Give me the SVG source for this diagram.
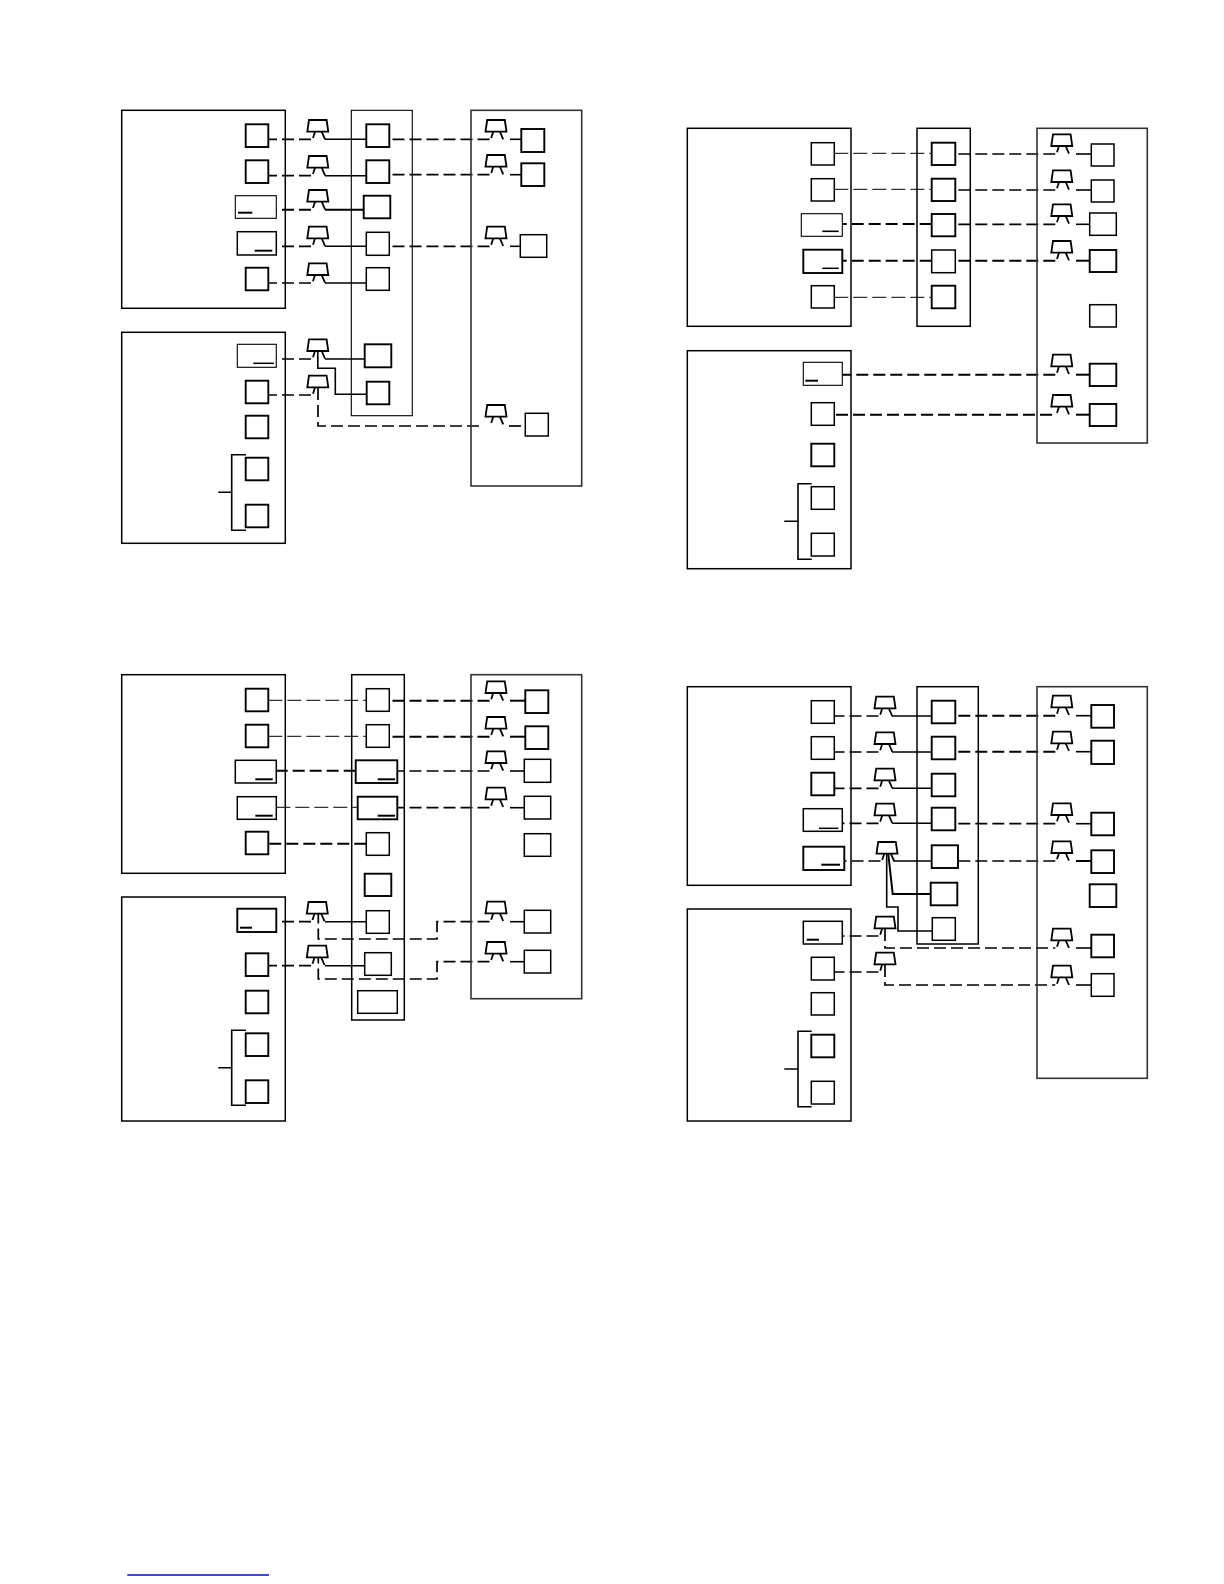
<svg xmlns="http://www.w3.org/2000/svg" xmlns:xlink="http://www.w3.org/1999/xlink" width="1224" height="1584" viewBox="0 0 1224 1584">
<style>
rect{fill:none;stroke:#000;stroke-width:1.5}
rect.t{stroke-width:1.1}
rect.b{stroke-width:1.9}
rect.g{stroke:#333;stroke-width:1.6}
path{fill:none;stroke:#000;stroke-width:1.5}
path.d{stroke-width:1.7;stroke-dasharray:12 5}
path.dt{stroke-width:1;stroke-dasharray:14 5}
path.db{stroke-width:2.1;stroke-dasharray:12 5}
path.u{stroke-width:2}
path.s{stroke-width:1.6}
path.k{stroke-width:1.8}
path.r{stroke:#1010a0;stroke-width:1.3}
</style>
<defs>
<g id="q"><path class="k" d="M-8.8 0H8.8L10.5 11.7H-10.5Z"/><path class="k" d="M-2.8 11.7L-4.8 18"/></g>
<g id="p"><use href="#q" xlink:href="#q"/><path class="k" d="M3.9 11.7L7.2 19.3"/></g>
</defs>

<g id="connectors">
<!-- top left -->
<path class="d" d="M311 139.3H268.3"/><path class="s" d="M325 139.3H366.3"/><path class="d" d="M489.5 139.3H392"/><path class="s" d="M510 139.3H521.3"/>
<path class="d" d="M311 175.7H268.3"/><path class="s" d="M325 175.7H366.3"/><path class="d" d="M489.5 174.7H392"/><path class="s" d="M510 174.7H521.3"/>
<path class="db" d="M311 209.7H276.3"/><path class="u" d="M325 209.7H363.7"/>
<path class="d" d="M311 246.3H276.3"/><path class="s" d="M325 246.3H366.3"/><path class="d" d="M489.5 246.3H392"/><path class="s" d="M510 246.3H520.3"/>
<path class="d" d="M311 283H268.3"/><path class="s" d="M325 283H366.3"/>
<path class="d" d="M311 359H276.3"/><path class="s" d="M325 359H364.7M317.8 351V368.3H335.3V394.3H366.7"/>
<path class="d" d="M311 395H268.3"/>
<path class="d" d="M318 388V426H481"/><path class="d" d="M509 426H525"/>
<!-- top right -->
<path class="dt" d="M834.3 153.3H931.7"/><path class="d" d="M1055.3 154H955"/><path class="s" d="M1076 154H1091.3"/>
<path class="dt" d="M834.3 189.3H931.7"/><path class="d" d="M1055.3 190H955"/><path class="s" d="M1076 190H1091.3"/>
<path class="db" d="M931.7 224H842.3"/><path class="d" d="M1055.3 224.3H955.3"/><path class="s" d="M1076 224.3H1089.7"/>
<path class="db" d="M931.7 260.7H842.3"/><path class="db" d="M1055.3 260.7H955.3"/><path class="u" d="M1076 260.7H1089.7"/>
<path class="dt" d="M834.3 297.3H931.7"/>
<path class="db" d="M1055.3 374.7H842.3"/><path class="u" d="M1076 374.7H1089.7"/>
<path class="db" d="M1052 414.7H834.3"/><path class="u" d="M1076 414.7H1089.7"/>
<!-- bottom left -->
<path class="dt" d="M268.3 700.3H366.3"/><path class="db" d="M489.5 700.7H389.3"/><path class="u" d="M510 700.7H525.3"/>
<path class="dt" d="M268.3 736.3H366.3"/><path class="db" d="M489.5 736.7H389.3"/><path class="u" d="M510 736.7H525.3"/>
<path class="db" d="M355.7 770.7H276.3"/><path class="d" d="M489.5 771H397.3"/><path class="s" d="M510 771H524.3"/>
<path class="dt" d="M276.3 807.3H357.7"/><path class="d" d="M489.5 807.7H397.3"/><path class="s" d="M510 807.7H524.3"/>
<path class="db" d="M366.3 843.7H268.3"/>
<path class="d" d="M311 921.7H276.3"/><path class="s" d="M325 921.7H366.3"/>
<path class="d" d="M311 965.7H268.3"/><path class="s" d="M325 965.7H364.7"/>
<path class="d" d="M489.5 921.7H437V939H318.3V914"/><path class="s" d="M510 921.7H524.3"/>
<path class="d" d="M489.5 961.7H437V979H318.3V958"/><path class="s" d="M510 961.7H524.3"/>
<!-- bottom right -->
<path class="d" d="M878.5 716H834.3"/><path class="s" d="M892 716H931.7"/><path class="db" d="M1055.3 715.7H957"/><path class="s" d="M1076 715.7H1091.3"/>
<path class="d" d="M878.5 752H834.3"/><path class="s" d="M892 752H931.7"/><path class="db" d="M1055.3 751.7H957"/><path class="s" d="M1076 751.7H1091.3"/>
<path class="d" d="M878.5 788.3H834.3"/><path class="s" d="M892 788.3H931.7"/>
<path class="d" d="M878.5 823.3H842.3"/><path class="s" d="M892 823.3H931.7"/><path class="d" d="M1055.3 823.7H957"/><path class="s" d="M1076 823.7H1091.3"/>
<path class="d" d="M880.5 861H844.3"/><path class="s" d="M894 861H931.7"/><path class="d" d="M1055.3 861H958"/><path class="u" d="M1076 861H1091.3"/>
<path class="u" d="M888.3 854L892.7 894H930.7"/><path class="s" d="M886.7 854V907H898V931H932.3"/>
<path class="d" d="M878.5 936H842.3"/><path class="d" d="M878.5 972H834.3"/>
<path class="d" d="M885 929V948H1055.3"/><path class="s" d="M1076 948H1091.3"/>
<path class="d" d="M885 965V985H1055.3"/><path class="s" d="M1076 985H1091.3"/>
</g>

<g id="tl">
<g id="tl-a"><rect x="121.7" y="110.3" width="163.6" height="198"/></g>
<g id="tl-b"><rect x="121.7" y="332.3" width="163.6" height="211"/></g>
<g id="tl-m"><rect class="t" x="351.3" y="110.3" width="61" height="305.4"/></g>
<g id="tl-r"><rect class="g" x="471" y="110.3" width="110.7" height="375.7"/></g>
<g id="tl-a1"><rect class="b" x="245.7" y="124.3" width="22.6" height="22.7"/></g>
<g id="tl-a2"><rect class="b" x="245.7" y="160.3" width="22.6" height="22.7"/></g>
<g id="tl-a3"><rect class="t" x="235.3" y="195.7" width="41" height="22.6"/><path class="u" d="M238 212.7H252.3"/></g>
<g id="tl-a4"><rect x="237.3" y="231.7" width="39" height="23.3"/><path class="u" d="M254.7 250.7H272.3"/></g>
<g id="tl-a5"><rect class="b" x="245.7" y="267.7" width="22.6" height="22.6"/></g>
<g id="tl-b1"><rect class="t" x="237.3" y="344.3" width="39" height="23"/><path d="M253.3 363.3H274"/></g>
<g id="tl-b2"><rect class="b" x="245.7" y="380.7" width="22.6" height="22.6"/></g>
<g id="tl-b3"><rect class="b" x="245.7" y="415.7" width="22.6" height="22.6"/></g>
<g id="tl-b4"><rect class="b" x="245.7" y="457.7" width="22.6" height="22.6"/></g>
<g id="tl-b5"><rect class="b" x="245.7" y="504.7" width="22.6" height="22.6"/></g>
<g id="tl-br"><path class="s" d="M246 454.7H231.7V530.3H246M231.7 492.3H218.3"/></g>
<g id="tl-m1"><rect class="b" x="366.3" y="124.3" width="23" height="22.7"/></g>
<g id="tl-m2"><rect class="b" x="366.3" y="160.3" width="23" height="22.7"/></g>
<g id="tl-m3"><rect class="b" x="363.7" y="195.7" width="26.6" height="22.6"/></g>
<g id="tl-m4"><rect x="366.3" y="232.3" width="23" height="23"/></g>
<g id="tl-m5"><rect x="366.3" y="267.7" width="23" height="22.6"/></g>
<g id="tl-m6"><rect class="b" x="364.7" y="344.3" width="26.6" height="23"/></g>
<g id="tl-m7"><rect class="b" x="366.7" y="381.7" width="22.6" height="22.6"/></g>
<g id="tl-r1"><rect class="b" x="521.3" y="129" width="23" height="23"/></g>
<g id="tl-r2"><rect class="b" x="521.3" y="163.3" width="23" height="22.7"/></g>
<g id="tl-r3"><rect x="520.3" y="234.7" width="26.4" height="22.6"/></g>
<g id="tl-r4"><rect x="525.3" y="413.3" width="23" height="22.7"/></g>
<use id="tl-p1" href="#p" xlink:href="#p" x="317.8" y="120"/>
<use id="tl-p2" href="#p" xlink:href="#p" x="317.8" y="156"/>
<use id="tl-p3" href="#p" xlink:href="#p" x="317.8" y="190"/>
<use id="tl-p4" href="#p" xlink:href="#p" x="317.8" y="226.7"/>
<use id="tl-p5" href="#p" xlink:href="#p" x="317.8" y="263.3"/>
<use id="tl-p6" href="#p" xlink:href="#p" x="317.8" y="339.3"/>
<use id="tl-p7" href="#q" xlink:href="#q" x="317.8" y="375.7"/>
<use id="tl-p8" href="#p" xlink:href="#p" x="496" y="120"/>
<use id="tl-p9" href="#p" xlink:href="#p" x="496" y="155"/>
<use id="tl-p10" href="#p" xlink:href="#p" x="496" y="226.7"/>
<use id="tl-p11" href="#p" xlink:href="#p" x="496" y="405"/>
</g>

<g id="tr">
<g id="tr-a"><rect x="687.3" y="128.3" width="163.7" height="198"/></g>
<g id="tr-b"><rect x="687.3" y="350.7" width="163.7" height="218"/></g>
<g id="tr-m"><rect x="917" y="128.3" width="53.3" height="198"/></g>
<g id="tr-r"><rect class="g" x="1037" y="128.3" width="110.3" height="314.7"/></g>
<g id="tr-a1"><rect x="811.3" y="142.7" width="23" height="22.3"/></g>
<g id="tr-a2"><rect x="811.3" y="178.7" width="23" height="22.3"/></g>
<g id="tr-a3"><rect class="t" x="801.3" y="213.7" width="41" height="22.6"/><path class="s" d="M822.3 231.3H838.7"/></g>
<g id="tr-a4"><rect class="b" x="803.3" y="249.7" width="39" height="23.3"/><path d="M822.3 268.3H838.7"/></g>
<g id="tr-a5"><rect x="811.3" y="285.7" width="23" height="22.3"/></g>
<g id="tr-b1"><rect class="t" x="803.3" y="362.3" width="39" height="23"/><path class="u" d="M805.3 380.7H818"/></g>
<g id="tr-b2"><rect x="811.3" y="402.7" width="23" height="22.6"/></g>
<g id="tr-b3"><rect class="b" x="811.3" y="443.7" width="23" height="22.6"/></g>
<g id="tr-b4"><rect x="811.3" y="486.7" width="23" height="22.6"/></g>
<g id="tr-b5"><rect x="811.3" y="533.3" width="23" height="22.7"/></g>
<g id="tr-br"><path class="s" d="M811.7 483.7H798V559.3H811.7M798 521.3H784.3"/></g>
<g id="tr-m1"><rect class="b" x="931.7" y="142.7" width="23.6" height="22.3"/></g>
<g id="tr-m2"><rect class="b" x="931.7" y="178.7" width="23.6" height="22.3"/></g>
<g id="tr-m3"><rect class="b" x="931.7" y="214" width="23.6" height="22.3"/></g>
<g id="tr-m4"><rect x="931.7" y="250" width="23.6" height="22.7"/></g>
<g id="tr-m5"><rect class="b" x="931.7" y="285.7" width="23.6" height="22.6"/></g>
<g id="tr-r1"><rect x="1091.3" y="144" width="22.7" height="22"/></g>
<g id="tr-r2"><rect x="1091.3" y="180" width="22.7" height="22"/></g>
<g id="tr-r3"><rect x="1089.7" y="213" width="26.6" height="22.3"/></g>
<g id="tr-r4"><rect class="b" x="1089.7" y="250" width="26.6" height="22"/></g>
<g id="tr-r5"><rect x="1089.7" y="304.7" width="26.6" height="22.3"/></g>
<g id="tr-r6"><rect class="b" x="1089.7" y="363.7" width="26.6" height="22.3"/></g>
<g id="tr-r7"><rect class="b" x="1089.7" y="404" width="26.6" height="22"/></g>
<use id="tr-p1" href="#p" xlink:href="#p" x="1061.8" y="134.3"/>
<use id="tr-p2" href="#p" xlink:href="#p" x="1061.8" y="170.3"/>
<use id="tr-p3" href="#p" xlink:href="#p" x="1061.8" y="204.3"/>
<use id="tr-p4" href="#p" xlink:href="#p" x="1061.8" y="241"/>
<use id="tr-p5" href="#p" xlink:href="#p" x="1061.8" y="354.7"/>
<use id="tr-p6" href="#p" xlink:href="#p" x="1061.8" y="395"/>
</g>

<g id="bl">
<g id="bl-a"><rect x="121.7" y="674.7" width="163.6" height="198.6"/></g>
<g id="bl-b"><rect x="121.7" y="897" width="163.6" height="224"/></g>
<g id="bl-m"><rect x="351.7" y="674.7" width="52.6" height="345.3"/></g>
<g id="bl-r"><rect class="g" x="471" y="674.7" width="110.7" height="324"/></g>
<g id="bl-a1"><rect class="b" x="245.7" y="688.7" width="22.6" height="22.6"/></g>
<g id="bl-a2"><rect class="b" x="245.7" y="724.7" width="22.6" height="22.6"/></g>
<g id="bl-a3"><rect x="235.3" y="760.3" width="41" height="22.7"/><path class="u" d="M255.3 779.3H272.7"/></g>
<g id="bl-a4"><rect x="237.3" y="796.7" width="39" height="22.6"/><path class="u" d="M255.3 815.7H272.7"/></g>
<g id="bl-a5"><rect class="b" x="245.7" y="831.7" width="22.6" height="22.6"/></g>
<g id="bl-b1"><rect class="b" x="237.3" y="908.7" width="39" height="23.3"/><path class="u" d="M240 927.7H252"/></g>
<g id="bl-b2"><rect class="b" x="245.7" y="953.3" width="22.6" height="22.7"/></g>
<g id="bl-b3"><rect class="b" x="245.7" y="990.7" width="22.6" height="22.6"/></g>
<g id="bl-b4"><rect class="b" x="245.7" y="1033.3" width="22.6" height="22.7"/></g>
<g id="bl-b5"><rect class="b" x="245.7" y="1080.3" width="22.6" height="22.7"/></g>
<g id="bl-br"><path class="s" d="M246 1030.3H231.7V1105.3H246M231.7 1067.7H218.3"/></g>
<g id="bl-m1"><rect x="366.3" y="688.7" width="23" height="22.6"/></g>
<g id="bl-m2"><rect x="366.3" y="724.7" width="23" height="22.6"/></g>
<g id="bl-m3"><rect class="b" x="355.7" y="760.3" width="41.6" height="22.7"/><path class="u" d="M377.7 779.3H395"/></g>
<g id="bl-m4"><rect class="b" x="357.7" y="796.7" width="39.6" height="22.6"/><path class="u" d="M377.7 815.7H395"/></g>
<g id="bl-m5"><rect x="366.3" y="832.7" width="23" height="22.6"/></g>
<g id="bl-m6"><rect class="b" x="364.7" y="873.7" width="26.6" height="22.3"/></g>
<g id="bl-m7"><rect x="366.3" y="910.7" width="23" height="22.6"/></g>
<g id="bl-m8"><rect x="364.7" y="952.7" width="26.6" height="22.6"/></g>
<g id="bl-m9"><rect x="357.7" y="990.7" width="39.6" height="22.6"/></g>
<g id="bl-r1"><rect class="b" x="525.3" y="690.3" width="23" height="22.7"/></g>
<g id="bl-r2"><rect class="b" x="525.3" y="726.3" width="23" height="22.7"/></g>
<g id="bl-r3"><rect x="524.3" y="759.3" width="26.4" height="23"/></g>
<g id="bl-r4"><rect x="524.3" y="796.3" width="26.4" height="22.7"/></g>
<g id="bl-r5"><rect x="524.3" y="833.7" width="26.4" height="22.6"/></g>
<g id="bl-r6"><rect x="524.3" y="910.3" width="26.4" height="22.7"/></g>
<g id="bl-r7"><rect x="524.3" y="950.3" width="26.4" height="22.7"/></g>
<use id="bl-p1" href="#p" xlink:href="#p" x="317.3" y="902"/>
<use id="bl-p2" href="#p" xlink:href="#p" x="317.3" y="945.7"/>
<use id="bl-p3" href="#p" xlink:href="#p" x="496" y="681.3"/>
<use id="bl-p4" href="#p" xlink:href="#p" x="496" y="717"/>
<use id="bl-p5" href="#p" xlink:href="#p" x="496" y="751.3"/>
<use id="bl-p6" href="#p" xlink:href="#p" x="496" y="787.7"/>
<use id="bl-p7" href="#p" xlink:href="#p" x="496" y="901.7"/>
<use id="bl-p8" href="#p" xlink:href="#p" x="496" y="942"/>
</g>

<g id="br">
<g id="br-a"><rect x="687.3" y="686.7" width="163.7" height="198.6"/></g>
<g id="br-b"><rect x="687.3" y="909" width="163.7" height="212"/></g>
<g id="br-m"><rect x="917" y="686.7" width="61.3" height="257.3"/></g>
<g id="br-r"><rect class="g" x="1037" y="686.7" width="110.3" height="391.6"/></g>
<g id="br-a1"><rect x="811.3" y="700.7" width="23" height="22.6"/></g>
<g id="br-a2"><rect x="811.3" y="736.7" width="23" height="22.6"/></g>
<g id="br-a3"><rect class="b" x="811.3" y="772.7" width="23" height="22.6"/></g>
<g id="br-a4"><rect x="803.3" y="808.7" width="39" height="22.6"/><path d="M819 828.3H838.3"/></g>
<g id="br-a5"><rect class="b" x="803.3" y="846.7" width="41" height="23.3"/><path class="u" d="M821.3 864.7H840"/></g>
<g id="br-b1"><rect x="803.3" y="921.3" width="39" height="22.7"/><path class="u" d="M806.7 939.7H819"/></g>
<g id="br-b2"><rect x="811.3" y="957.3" width="23" height="22.7"/></g>
<g id="br-b3"><rect x="811.3" y="992.7" width="23" height="22.3"/></g>
<g id="br-b4"><rect class="b" x="811.3" y="1034.7" width="23" height="22.6"/></g>
<g id="br-b5"><rect x="811.3" y="1081.3" width="23" height="22.7"/></g>
<g id="br-br"><path class="s" d="M811.7 1031.3H798V1106.7H811.7M798 1069H784.3"/></g>
<g id="br-m1"><rect class="b" x="931.7" y="700.7" width="23.6" height="22.6"/></g>
<g id="br-m2"><rect class="b" x="931.7" y="736.7" width="23.6" height="22.6"/></g>
<g id="br-m3"><rect class="b" x="931.7" y="773.7" width="23.6" height="22.6"/></g>
<g id="br-m4"><rect class="b" x="931.7" y="807.7" width="23.6" height="22.6"/></g>
<g id="br-m5"><rect class="b" x="931.7" y="845.3" width="26.3" height="22.7"/></g>
<g id="br-m6"><rect class="b" x="930.7" y="882.7" width="26.6" height="22.6"/></g>
<g id="br-m7"><rect x="932.3" y="917.7" width="23" height="22.6"/></g>
<g id="br-r1"><rect class="b" x="1091.3" y="705" width="22.7" height="22.7"/></g>
<g id="br-r2"><rect class="b" x="1091.3" y="740.7" width="22.7" height="23.3"/></g>
<g id="br-r3"><rect class="b" x="1091.3" y="812.7" width="22.7" height="22.6"/></g>
<g id="br-r4"><rect class="b" x="1091.3" y="850.3" width="22.7" height="22.7"/></g>
<g id="br-r5"><rect class="b" x="1089.7" y="884.3" width="26.6" height="22.7"/></g>
<g id="br-r6"><rect class="b" x="1091.3" y="934.7" width="22.7" height="22.6"/></g>
<g id="br-r7"><rect x="1091.3" y="973.7" width="22.7" height="22.6"/></g>
<use id="br-p1" href="#p" xlink:href="#p" x="885" y="696.7"/>
<use id="br-p2" href="#p" xlink:href="#p" x="885" y="732.3"/>
<use id="br-p3" href="#p" xlink:href="#p" x="885" y="768.7"/>
<use id="br-p4" href="#p" xlink:href="#p" x="885" y="803.7"/>
<use id="br-p5" href="#p" xlink:href="#p" x="887" y="842"/>
<use id="br-p6" href="#q" xlink:href="#q" x="885" y="916.7"/>
<use id="br-p7" href="#q" xlink:href="#q" x="885" y="952.7"/>
<use id="br-p8" href="#p" xlink:href="#p" x="1061.8" y="695.7"/>
<use id="br-p9" href="#p" xlink:href="#p" x="1061.8" y="731.7"/>
<use id="br-p10" href="#p" xlink:href="#p" x="1061.8" y="803.3"/>
<use id="br-p11" href="#p" xlink:href="#p" x="1061.8" y="841.3"/>
<use id="br-p12" href="#p" xlink:href="#p" x="1061.8" y="928.7"/>
<use id="br-p13" href="#p" xlink:href="#p" x="1061.8" y="965.7"/>
</g>
<path id="rule" class="r" d="M127.3 1575H269"/>
</svg>
